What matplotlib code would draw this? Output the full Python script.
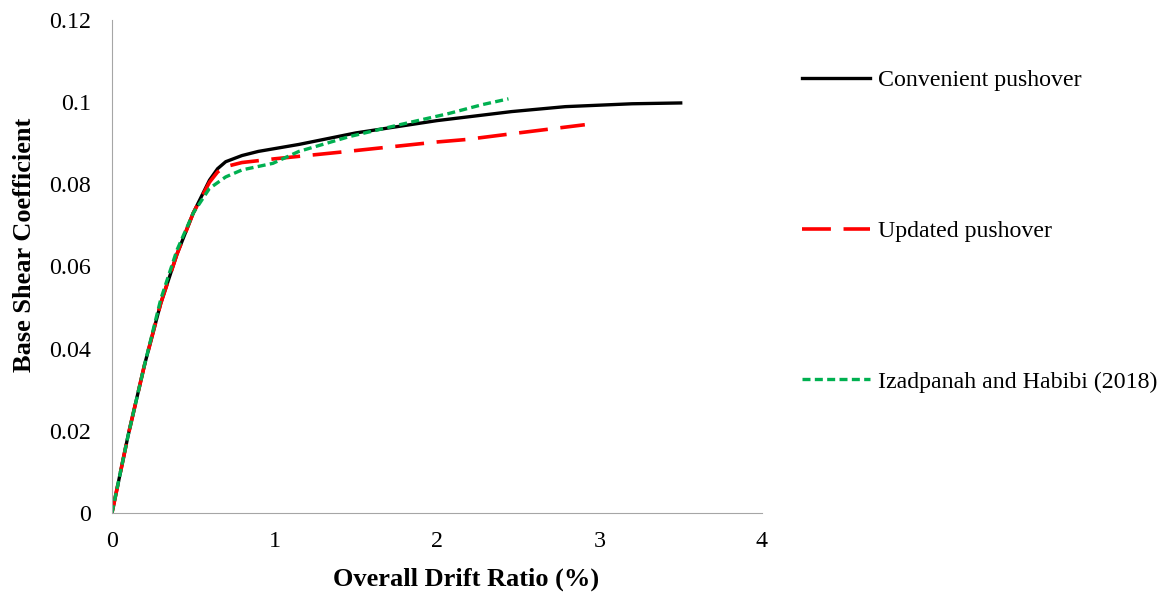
import matplotlib.pyplot as plt
import numpy as np

plt.rcParams['font.family'] = ['Liberation Serif', 'DejaVu Serif']

# Convenient pushover
x_conv = [0, 0.1, 0.2, 0.3, 0.4, 0.5, 0.6, 0.65, 0.7, 0.8, 0.9, 1.15, 1.5, 2.0, 2.46, 2.79, 3.2, 3.5]
y_conv = [0, 0.019, 0.036, 0.051, 0.063, 0.073, 0.081, 0.0838, 0.0855, 0.087, 0.088, 0.0897,
          0.0925, 0.0955, 0.0977, 0.0989, 0.0996, 0.0998]

# Updated pushover
x_upd = [0, 0.1, 0.2, 0.3, 0.4, 0.5, 0.6, 0.65, 0.7, 0.8, 1.0, 1.4, 2.0, 2.18, 2.5, 2.91]
y_upd = [0, 0.019, 0.036, 0.051, 0.063, 0.073, 0.0805, 0.083, 0.0843, 0.0853, 0.0862, 0.0878,
         0.0903, 0.0909, 0.0925, 0.0945]

# Izadpanah and Habibi (2018)
x_iz = [0, 0.1, 0.2, 0.3, 0.4, 0.5, 0.55, 0.6, 0.7, 0.8, 0.99, 1.15, 1.46, 1.77, 2.07, 2.28, 2.44]
y_iz = [0, 0.019, 0.036, 0.052, 0.064, 0.073, 0.076, 0.079, 0.0818, 0.0835, 0.0851, 0.088,
        0.0916, 0.0945, 0.0972, 0.0994, 0.1008]

fig = plt.figure(figsize=(11.64, 5.94), dpi=100)
ax = fig.add_axes([0.0962, 0.1364, 0.5584, 0.83])

ax.plot(x_conv, y_conv, color='black', lw=2.4, label='Convenient pushover')
ax.plot(x_upd, y_upd, color='#ff0000', lw=2.6, dashes=(8, 3.5), label='Updated pushover')
ax.plot(x_iz, y_iz, color='#00b050', lw=2.4, dashes=(2.4, 1.3), label='Izadpanah and Habibi (2018)')

ax.set_xlim(0, 4)
ax.set_ylim(0, 0.12)
ax.set_xticks([0, 1, 2, 3, 4])
ax.set_yticks(np.arange(0, 0.121, 0.02))
ax.set_yticklabels(['0', '0.02', '0.04', '0.06', '0.08', '0.1', '0.12'])

ax.spines['right'].set_visible(False)
ax.spines['top'].set_visible(False)
ax.spines['left'].set_color('#a6a6a6')
ax.spines['bottom'].set_color('#a6a6a6')
ax.tick_params(axis='both', length=0, labelsize=17.3)
ax.tick_params(axis='y', pad=15)
ax.tick_params(axis='x', pad=13)

ax.set_xlabel('Overall Drift Ratio (%)', fontsize=19, fontweight='bold')
ax.set_ylabel('Base Shear Coefficient', fontsize=19, fontweight='bold')
ax.xaxis.set_label_coords(0.545, -0.11)
ax.yaxis.set_label_coords(-0.117, 0.544)

ax.legend(loc='upper left', bbox_to_anchor=(1.028, 0.943), frameon=False, fontsize=17.2,
          labelspacing=5.4, handlelength=2.85, handletextpad=0.34)

fig.savefig('out.png', dpi=100)
